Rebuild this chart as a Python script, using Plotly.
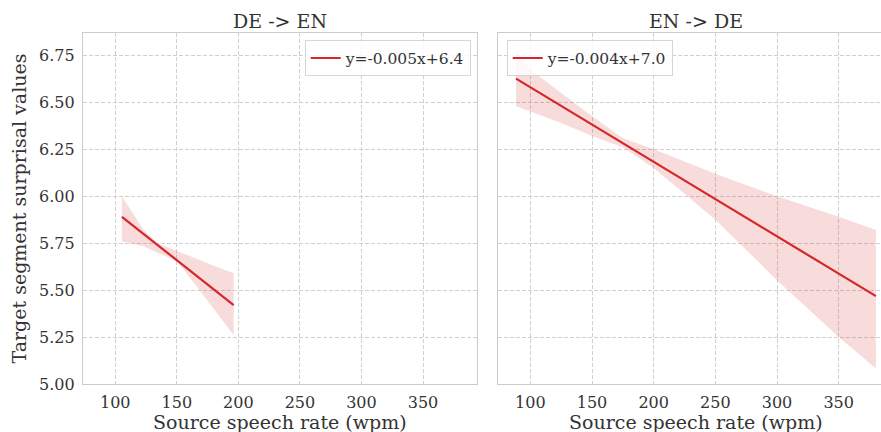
import plotly.graph_objects as go

# ---- data ----
de_line_x = [105.4, 196.2]
de_line_y = [5.89, 5.42]
de_band_x = [105.4, 115, 123, 134, 150, 165, 180, 196.2]
de_band_upper = [6.00, 5.90, 5.82, 5.75, 5.71, 5.67, 5.63, 5.59]
de_band_lower = [5.76, 5.745, 5.734, 5.70, 5.655, 5.53, 5.40, 5.26]

en_line_x = [88.4, 380.2]
en_line_y = [6.626, 5.468]
en_band_x = [88.4, 100, 125, 150, 175, 200, 250, 300, 350, 380.2]
en_band_upper = [6.77, 6.674, 6.55, 6.426, 6.31, 6.25, 6.12, 6.00, 5.89, 5.82]
en_band_lower = [6.479, 6.45, 6.39, 6.32, 6.26, 6.15, 5.875, 5.553, 5.25, 5.083]

de_label = "y=-0.005x+6.4"
en_label = "y=-0.004x+7.0"
titles = ["DE -> EN", "EN -> DE"]
x_title = "Source speech rate (wpm)"
y_title = "Target segment surprisal values"
x_ticks = [100, 150, 200, 250, 300, 350]
y_ticks = [5.00, 5.25, 5.50, 5.75, 6.00, 6.25, 6.50, 6.75]

RED = "#d62728"
BAND = "rgba(214,39,40,0.16)"
FONT = "DejaVu Serif"
TXT = "#333333"
GRID = "#d0d0d0"
SPINE = "#cccccc"

W, H = 881, 432
L, R, T, B = 83, 0, 33.3, 48
pw = W - L - R
ph = H - T - B

def px_x(p):
    return (p - L) / pw

fig = go.Figure()

# DE -> EN panel
fig.add_trace(go.Scatter(x=de_band_x, y=de_band_lower, mode="lines", line=dict(width=0),
                         showlegend=False, hoverinfo="skip", xaxis="x", yaxis="y"))
fig.add_trace(go.Scatter(x=de_band_x, y=de_band_upper, mode="lines", line=dict(width=0),
                         fill="tonexty", fillcolor=BAND, showlegend=False, hoverinfo="skip",
                         xaxis="x", yaxis="y"))
fig.add_trace(go.Scatter(x=de_line_x, y=de_line_y, mode="lines", line=dict(color=RED, width=2.2),
                         name=de_label, legend="legend", xaxis="x", yaxis="y"))

# EN -> DE panel
fig.add_trace(go.Scatter(x=en_band_x, y=en_band_lower, mode="lines", line=dict(width=0),
                         showlegend=False, hoverinfo="skip", xaxis="x2", yaxis="y2"))
fig.add_trace(go.Scatter(x=en_band_x, y=en_band_upper, mode="lines", line=dict(width=0),
                         fill="tonexty", fillcolor=BAND, showlegend=False, hoverinfo="skip",
                         xaxis="x2", yaxis="y2"))
fig.add_trace(go.Scatter(x=en_line_x, y=en_line_y, mode="lines", line=dict(color=RED, width=2.2),
                         name=en_label, legend="legend2", xaxis="x2", yaxis="y2"))

axis_common = dict(
    showgrid=True, gridcolor=GRID, griddash="4px,2px", gridwidth=1,
    zeroline=False, showline=True, linecolor=SPINE, linewidth=1.3,
    tickfont=dict(family=FONT, size=16, color=TXT),
    ticks="outside", ticklen=4, tickcolor="rgba(0,0,0,0)",
)

d1 = [0, px_x(477.3)]
d2 = [px_x(498.3), 1]

fig.update_layout(
    width=W, height=H,
    margin=dict(l=L, r=R, t=T, b=B),
    paper_bgcolor="white", plot_bgcolor="white",
    font=dict(family=FONT, color=TXT),
    xaxis=dict(domain=d1, range=[73.8, 394.1], tickvals=x_ticks, mirror=True, anchor="y", **axis_common),
    xaxis2=dict(domain=d2, range=[74.0, 384.3], tickvals=x_ticks, mirror=True, anchor="y2", **axis_common),
    yaxis=dict(domain=[0, 1], range=[5.0, 6.869], tickvals=y_ticks, tickformat=".2f",
               mirror=True, anchor="x", **axis_common),
    yaxis2=dict(domain=[0, 1], range=[5.0, 6.869], tickvals=y_ticks, showticklabels=False,
                mirror=False, anchor="x2", **axis_common),
    legend=dict(x=px_x(470.7), xanchor="right", y=(H - B - 40.7) / ph, yanchor="top",
                bgcolor="rgba(255,255,255,0.8)", bordercolor="#d5d5d5", borderwidth=1,
                font=dict(family=FONT, size=15.5, color=TXT), itemwidth=30),
    legend2=dict(x=px_x(506.7), xanchor="left", y=(H - B - 40.7) / ph, yanchor="top",
                 bgcolor="rgba(255,255,255,0.8)", bordercolor="#d5d5d5", borderwidth=1,
                 font=dict(family=FONT, size=15.5, color=TXT), itemwidth=30),
)

annos = [
    dict(text=titles[0], x=px_x(280), y=1 + (T - 21.7) / ph, xref="paper", yref="paper",
         xanchor="center", yanchor="middle", showarrow=False, font=dict(family=FONT, size=19, color=TXT)),
    dict(text=titles[1], x=px_x(696), y=1 + (T - 21.7) / ph, xref="paper", yref="paper",
         xanchor="center", yanchor="middle", showarrow=False, font=dict(family=FONT, size=19, color=TXT)),
    dict(text=x_title, x=px_x(280), y=-(422.3 - (H - B)) / ph, xref="paper", yref="paper",
         xanchor="center", yanchor="middle", showarrow=False, font=dict(family=FONT, size=19, color=TXT)),
    dict(text=x_title, x=px_x(696), y=-(422.3 - (H - B)) / ph, xref="paper", yref="paper",
         xanchor="center", yanchor="middle", showarrow=False, font=dict(family=FONT, size=19, color=TXT)),
    dict(text=y_title, x=px_x(18), y=0.5, xref="paper", yref="paper", textangle=-90,
         xanchor="center", yanchor="middle", showarrow=False, font=dict(family=FONT, size=19, color=TXT)),
]
fig.update_layout(annotations=annos)

fig.write_html("out.html", config={"displayModeBar": False},
               post_script="document.body.style.margin='0px';document.body.style.overflow='hidden';")
